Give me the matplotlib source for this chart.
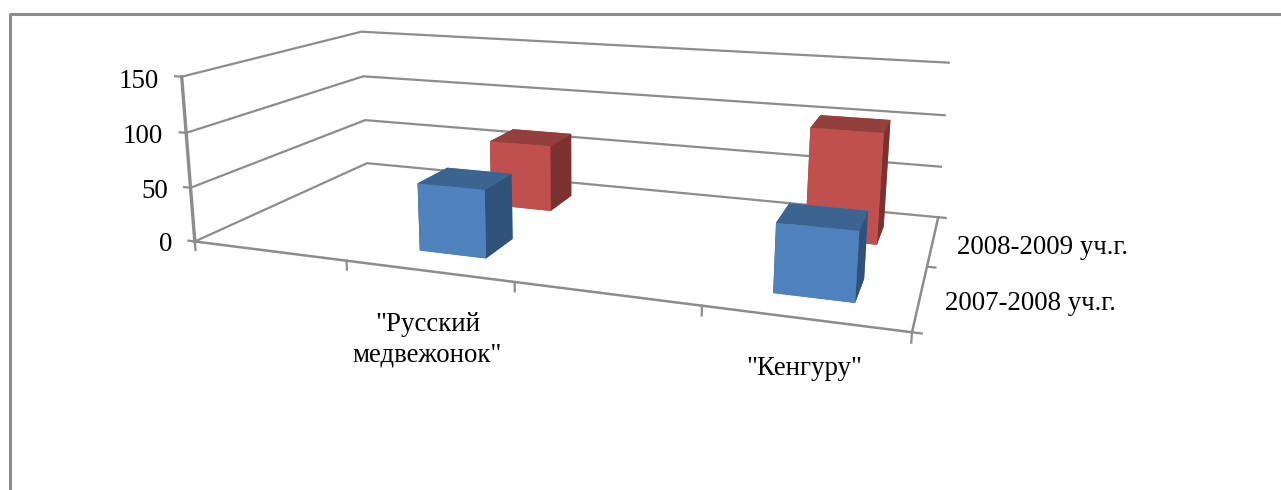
import matplotlib
matplotlib.use("Agg")
import matplotlib.pyplot as plt
from matplotlib.lines import Line2D
from mpl_toolkits.mplot3d import proj3d

plt.rcParams["font.family"] = ["Liberation Serif", "DejaVu Serif"]

categories = ['"Русский\nмедвежонок"', '"Кенгуру"']
series = ["2007-2008 уч.г.", "2008-2009 уч.г."]
values_2007 = [61, 58]
values_2008 = [65, 102]
z_ticks = [0, 50, 100, 150]

W, H = 1281, 490
GRAY = "#8c8c8c"
FS = 19.4
BLUE = ["#4f81bd", "#3c6491", "#4f81bd", "#4f81bd", "#30527a", "#30527a"]
RED = ["#c0504d", "#93403d", "#c0504d", "#c0504d", "#7b312e", "#7b312e"]

bar_x = [0.324, 0.824]      # left edge of each category's bars (axis runs 0..1)
bar_y = [0.15, 0.65]        # front edge of each series' row
bar_w, bar_d = 0.102, 0.19


def fx(x):
    return x / W


def fy(y):
    return 1 - y / H


fig = plt.figure(figsize=(W / 100, H / 100), dpi=100)
# box placement comes from fitting the camera to the reference's wall corners
ax = fig.add_axes([fx(191.8), fy(537.7), 754 / W, 754 / H],
                  projection="3d", computed_zorder=False)
ax.set_xlim(0, 1, view_margin=0)
ax.set_ylim(0, 1, view_margin=0)
ax.set_zlim(0, 150, view_margin=0)
ax.view_init(13.527, -70.071)
ax.set_proj_type("persp", focal_length=0.289)
ax.set_box_aspect((4.155, 2.041, 1))

# ── Walls, floor and ticks ────────────────────────────────────────────
ax.set_xticks([])
ax.set_yticks([])
ax.set_zticks(z_ticks)
ax.set_zticklabels([])
for axis in (ax.xaxis, ax.yaxis, ax.zaxis):
    axis.set_pane_color((1, 1, 1, 0))
    axis.line.set_color(GRAY)
    axis.line.set_linewidth(1.8)
    axis._axinfo["grid"].update(color=GRAY, linewidth=1.6)
    axis._axinfo["tick"]["linewidth"] = {True: 0, False: 0}
ax.zaxis.line.set_visible(False)

line_kw = dict(color=GRAY, lw=1.6, zorder=1, clip_on=False)
ax.plot([0, 0], [0, 0], [0, 150], **{**line_kw, "lw": 2.4})
for v in z_ticks:
    ax.plot([-0.011, 0], [0, 0], [v, v], **line_kw)
for t in [0, 0.25, 0.5, 0.75, 1]:
    ax.plot([t, t], [0, 0], [0, -8], **line_kw)
for t in [0, 0.5, 1]:
    ax.plot([1, 1.011], [t, t], [0, 0], **line_kw)

# z labels are plain 2d text at the projected spot left of the axis
M = ax.get_proj()
for v in z_ticks:
    X, Y, _ = proj3d.proj_transform(-0.04, 0, v - 5.5, M)
    ax.text2D(X, Y, str(v), transform=ax.transData, ha="right", va="center", fontsize=FS)

# ── Bars, back row first so the front row covers it ───────────────────
for values, y0, colors, z in [(values_2008, bar_y[1], RED, 3), (values_2007, bar_y[0], BLUE, 4)]:
    for x0, v in zip(bar_x, values):
        ax.bar3d(x0, y0, 0, bar_w, bar_d, v, color=colors, shade=False, linewidth=0, zorder=z)

# ── Labels ────────────────────────────────────────────────────────────
fig.text(fx(427.5), fy(340), categories[0], ha="center", va="center", fontsize=FS, linespacing=1.3)
fig.text(fx(804), fy(368), categories[1], ha="center", va="center", fontsize=FS)
fig.text(fx(945), fy(303), series[0], ha="left", va="center", fontsize=FS)
fig.text(fx(957), fy(247), series[1], ha="left", va="center", fontsize=FS)

# chart frame: only the top and left edges are inside the picture
fig.add_artist(Line2D([fx(10), fx(10), 1], [0, fy(14), fy(14)], color=GRAY, lw=2.2,
                      transform=fig.transFigure))

fig.savefig("out.png", dpi=100)
